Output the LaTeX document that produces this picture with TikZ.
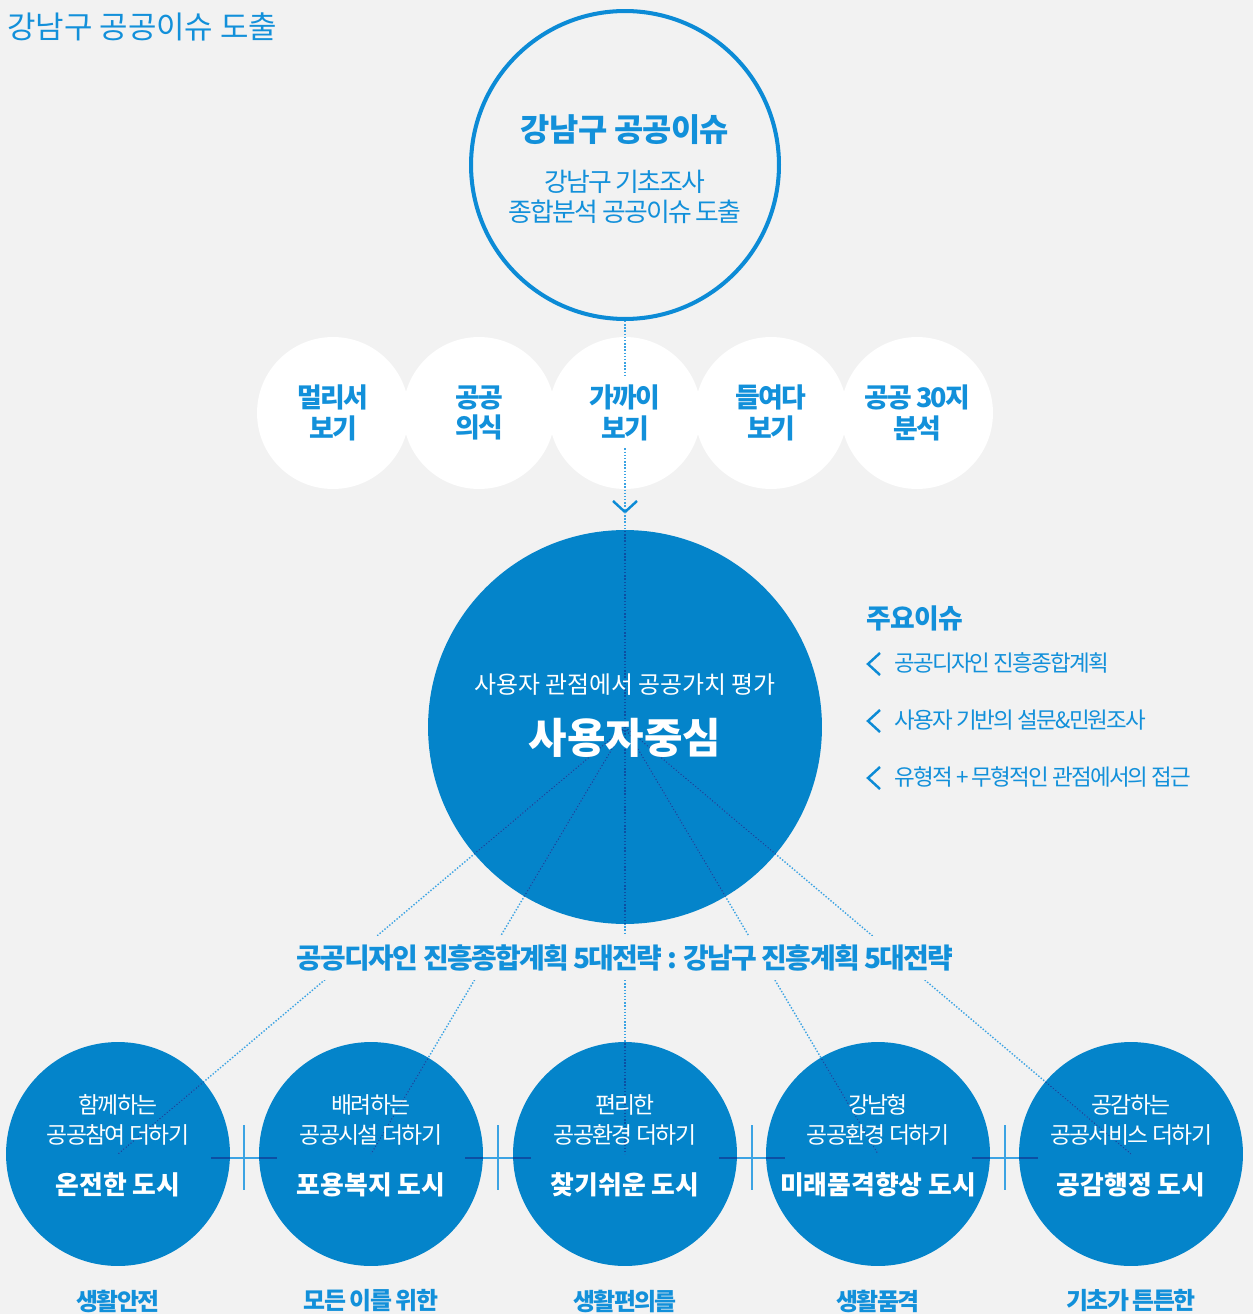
\documentclass[tikz,border=0pt]{standalone}
\usepackage{fontspec}
\setmainfont{Noto Sans CJK KR}
\newcommand{\krsize}[3]{\fontsize{#1}{#2}\selectfont\addfontfeature{LetterSpace=#3}}
\definecolor{bggray}{HTML}{F2F2F2}
\definecolor{cityblue}{HTML}{0484CA}
\definecolor{ringblue}{HTML}{0C8BD6}
\definecolor{textblue}{HTML}{1290DA}
\definecolor{linelight}{HTML}{3BA3E3}
\definecolor{linedark}{HTML}{0D4FA3}
\tikzset{
  ring/.style={circle, draw=ringblue, line width=2.3pt, minimum size=6.16cm, inner sep=0pt},
  softdot/.style={circle, fill=white, minimum size=3.04cm, inner sep=0pt},
  hubdot/.style={circle, fill=cityblue, minimum size=7.88cm, inner sep=0pt},
  citydot/.style={circle, fill=cityblue, minimum size=4.48cm, inner sep=0pt},
  titletxt/.style={text=textblue, inner sep=0pt, font=\krsize{17.6}{20}{0}},
  headtxt/.style={text=textblue, font=\bfseries\krsize{18.1}{20}{-2}},
  subtxt/.style={text=textblue, align=center, font=\krsize{14.7}{17}{-7}},
  softtxt/.style={text=textblue, align=center, inner sep=4pt, font=\bfseries\krsize{15.3}{17.6}{-7}},
  issuehead/.style={text=textblue, inner sep=0pt, font=\bfseries\krsize{15.3}{17}{-2}},
  issuetxt/.style={text=textblue, inner sep=0pt, font=\krsize{12.8}{15}{-8}},
  hubsub/.style={text=white, font=\krsize{13.6}{16}{0}},
  hubmain/.style={text=white, font=\bfseries\krsize{23.8}{26}{0}},
  banner/.style={text=textblue, fill=bggray, inner xsep=2pt, inner ysep=5pt, font=\bfseries\krsize{15.9}{18}{-6}},
  citysub/.style={text=white, align=center, font=\krsize{13}{17}{-7}},
  citymain/.style={text=white, font=\bfseries\krsize{14.7}{17}{0}},
  citylabel/.style={text=textblue, font=\bfseries\krsize{13.6}{16}{-7}},
  link/.style={draw=linelight, line width=0.8pt, dash pattern=on 0.8pt off 1pt},
  plus/.style={draw=linelight, line width=0.9pt},
  chevline/.style={draw=ringblue, line width=1.4pt},
}
\newcommand{\strategylinks}{%
  \draw[link] (top.south) -- (t3.north);
  \draw[link] (t3.south) -- (chev);
  \draw[link] (chev) -- (b3.center);
  \foreach \n in {1,2,4,5}
    \draw[link] (hub.center) -- (b\n.center);
  \foreach \x in {244,498,752,1005} {
    \draw[plus] (\x-33,1158) -- (\x+33,1158);
    \draw[plus] (\x,1125) -- (\x,1190);
  }
}
\begin{document}
\begin{tikzpicture}[x=0.02cm,y=-0.02cm]
\clip (0,0) rectangle (1253,1314);
\fill[bggray] (0,0) rectangle (1253,1314);

\node[titletxt, anchor=west] (ttl) at (7,27) {강남구 공공이슈 도출};

% circles
\node[ring] (top) at (625,165) {};
\foreach \n/\x in {1/333,2/479,3/625,4/771,5/917}
  \node[softdot] (s\n) at (\x,413) {};
\node[hubdot] (hub) at (625,727) {};
\foreach \n/\x in {1/118,2/371,3/625,4/878,5/1131}
  \node[citydot] (b\n) at (\x,1154) {};

% labels of the five ways of looking
\node[softtxt] (t1) at (333,413) {멀리서\\보기};
\node[softtxt] (t2) at (479,413) {공공\\의식};
\node[softtxt] (t3) at (625,413) {가까이\\보기};
\node[softtxt] (t4) at (771,413) {들여다\\보기};
\node[softtxt] (t5) at (917,413) {공공 30지\\분석};

\draw[chevline] (613,501) -- (625,512) -- (637,501);
\coordinate (chev) at (625,512);

% connectors, light outside and dark inside the circles
\strategylinks
\begin{scope}
  \clip (hub.center) circle[radius=3.94cm]
    (b1.center) circle[radius=2.24cm] (b2.center) circle[radius=2.24cm]
    (b3.center) circle[radius=2.24cm] (b4.center) circle[radius=2.24cm]
    (b5.center) circle[radius=2.24cm];
  \tikzset{link/.append style={draw=linedark}, plus/.append style={draw=linedark}}
  \strategylinks
\end{scope}

\node[headtxt] (topT) at (625,130) {강남구 공공이슈};
\node[subtxt] (topS) at (625,197) {강남구 기초조사\\종합분석 공공이슈 도출};

\node[hubsub] (hubS) at (625,685) {사용자 관점에서 공공가치 평가};
\node[hubmain] (hubM) at (625,738) {사용자중심};

% main issues
\node[issuehead, anchor=west] (iss) at (866,618) {주요이슈};
\foreach \n/\y/\t in {1/663/공공디자인 진흥종합계획, 2/720/사용자 기반의 설문\&민원조사, 3/777/유형적 + 무형적인 관점에서의 접근} {
  \node[issuetxt, anchor=west] (i\n) at (894,\y) {\t};
  \draw[chevline] (880,\y-10) -- (868,\y+1) -- (880,\y+12);
}

\node[banner] (band) at (625,958) {공공디자인 진흥종합계획 5대전략 : 강남구 진흥계획 5대전략};

% five strategies
\foreach \n/\x/\a/\b/\c/\d in {
  1/118/함께하는/공공참여 더하기/온전한 도시/생활안전,
  2/371/배려하는/공공시설 더하기/포용복지 도시/모든 이를 위한,
  3/625/편리한/공공환경 더하기/찾기쉬운 도시/생활편의를,
  4/878/강남형/공공환경 더하기/미래품격향상 도시/생활품격,
  5/1131/공감하는/공공서비스 더하기/공감행정 도시/기초가 튼튼한} {
  \node[citysub] (c\n) at (\x,1120) {\a\\\b};
  \node[citymain] (m\n) at (\x,1185) {\c};
  \node[citylabel] (l\n) at (\x,1301) {\d};
}
\end{tikzpicture}
\end{document}
